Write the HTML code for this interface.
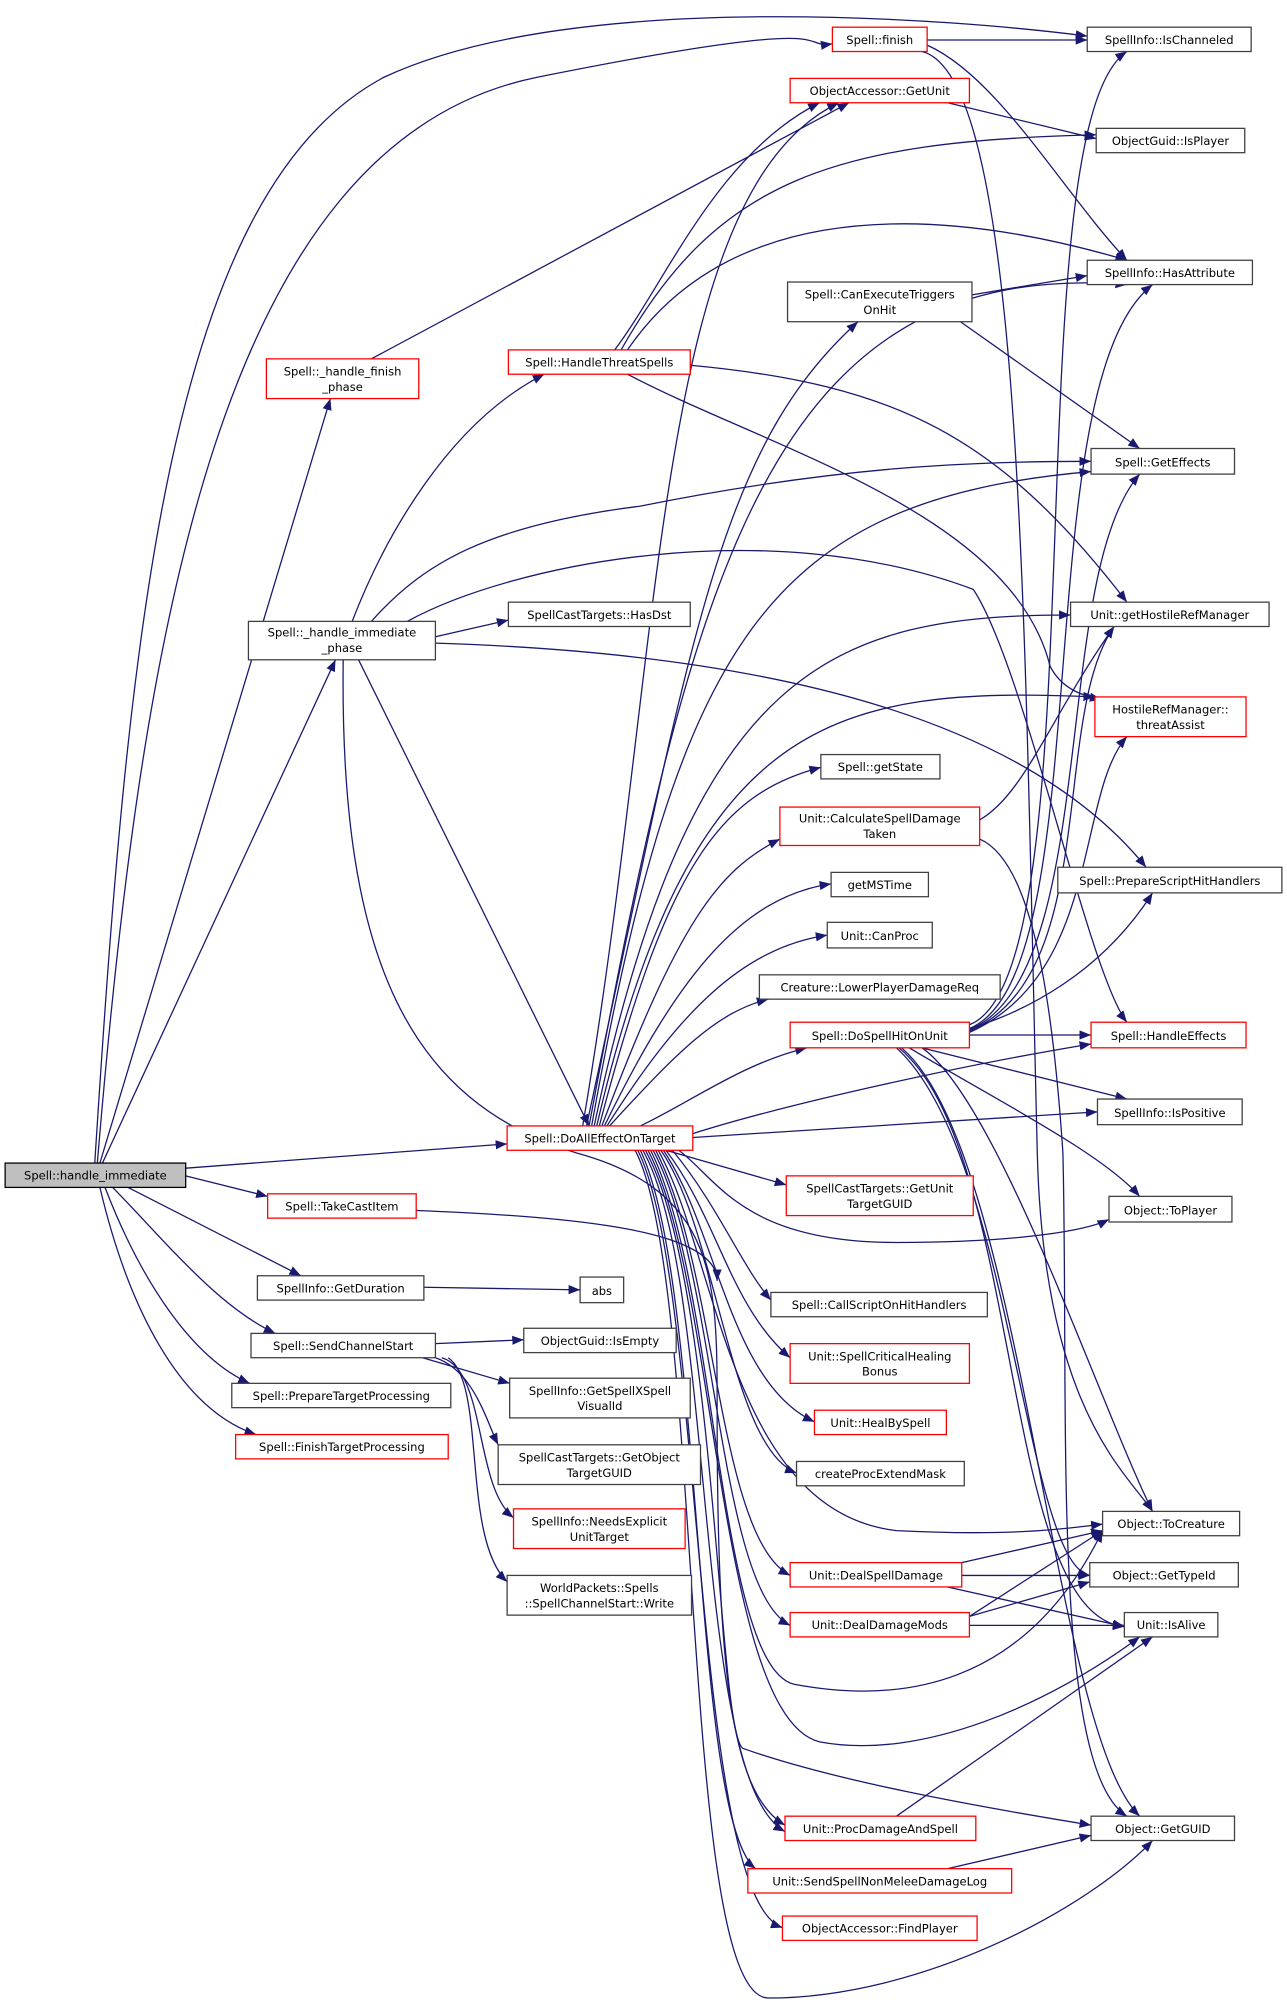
<!DOCTYPE html>
<html><head><meta charset="utf-8"><style>
html,body{margin:0;padding:0;background:#fff;}
svg{display:block;}
text{font-family:"DejaVu Sans","Liberation Sans",sans-serif;font-size:9px;fill:#000;text-anchor:middle;}
.n{fill:#fff;stroke:#404040;stroke-width:1;}
.r{fill:#fff;stroke:#ff0000;stroke-width:1;}
.e{fill:none;stroke:#191970;stroke-width:1;}
</style></head><body>
<svg width="1287" height="2006" viewBox="0 0 1005 1566" xmlns="http://www.w3.org/2000/svg">
<defs><marker id="a" viewBox="0 0 10 10" refX="10" refY="5" markerWidth="9" markerHeight="9" markerUnits="userSpaceOnUse" orient="auto"><path d="M0,1L10,5L0,9z" fill="#191970"/></marker></defs>
<g class="e" marker-end="url(#a)">
<!-- handle_immediate -->
<path d="M76,908 C110,500 170,110 420,60 S620,38 650,34"/>
<path d="M74,908 C100,500 130,150 300,60 C450,-10 750,15 849,28"/>
<path d="M78,908 L258,311"/>
<path d="M80,908 L262,515"/>
<path d="M145,912 L396,893"/>
<path d="M145,918 L209,934"/>
<path d="M100,927 L235,996"/>
<path d="M88,927 C130,970 170,1020 215,1041"/>
<path d="M82,927 C110,1000 150,1060 195,1080"/>
<path d="M78,927 C100,1020 140,1100 200,1120"/>
<!-- finish phase -->
<path d="M290,280 L663,80"/>
<!-- immediate phase -->
<path d="M275,485 C300,420 350,330 425,292"/>
<path d="M290,485 C330,440 380,410 500,395 C650,365 750,360 852,360"/>
<path d="M340,497 L397,484"/>
<path d="M318,485 C400,440 600,400 760,460 C800,520 850,760 880,798"/>
<path d="M340,502 C600,510 800,560 895,677"/>
<path d="M280,515 L460,879"/>
<path d="M268,515 C265,750 320,860 450,900 C560,930 560,1000 560,1100 C560,1300 570,1400 613,1425"/>
<!-- HandleThreatSpells -->
<path d="M480,273 C520,220 560,120 640,80"/>
<path d="M490,273 C560,170 700,150 880,203"/>
<path d="M485,273 C560,140 650,110 856,105"/>
<path d="M539,285 C700,300 780,340 880,470"/>
<path d="M490,292 C600,350 790,400 820,520 C830,540 850,544 860,546"/>
<!-- finish -->
<path d="M724,31 L849,31"/>
<path d="M724,35 C780,60 830,150 880,203"/>
<path d="M720,40 C800,60 800,500 810,900 C815,1100 880,1150 900,1180"/>
<path d="M740,80 L856,108"/>
<path d="M759,230 L849,215"/>
<path d="M750,251 L890,350"/>
<path d="M765,640 C800,620 820,560 870,489"/>
<path d="M765,655 C800,670 820,750 830,900 C835,1100 820,1380 880,1418"/>
<!-- DoAllEffectOnTarget -->
<path d="M455,879 C520,500 510,150 655,80"/>
<path d="M458,879 C540,500 560,350 670,251"/>
<path d="M460,879 C540,450 600,200 880,222"/>
<path d="M462,879 C530,500 600,390 852,368"/>
<path d="M464,879 C540,520 650,480 836,480"/>
<path d="M466,879 C540,560 650,535 855,544"/>
<path d="M468,879 C520,680 560,620 641,599"/>
<path d="M470,879 C530,720 560,680 609,655"/>
<path d="M472,879 C530,760 580,700 649,690"/>
<path d="M474,879 C530,790 580,740 646,730"/>
<path d="M476,879 C530,820 560,790 600,780"/>
<path d="M500,879 C540,860 580,830 630,818"/>
<path d="M541,885 C620,860 760,830 852,815"/>
<path d="M541,888 L857,868"/>
<path d="M520,898 L614,925"/>
<path d="M530,898 C560,920 580,970 700,970 C800,970 850,960 866,952"/>
<path d="M525,898 C560,940 580,990 602,1015"/>
<path d="M520,898 C560,950 570,1020 617,1060"/>
<path d="M518,898 C560,960 570,1080 636,1110"/>
<path d="M516,898 C560,960 570,1130 622,1150"/>
<path d="M514,898 C560,980 570,1180 700,1195 C800,1200 840,1192 861,1190"/>
<path d="M512,898 C560,990 560,1200 617,1230"/>
<path d="M510,898 C560,990 560,1240 617,1269"/>
<path d="M508,898 C560,1000 560,1300 620,1315 C700,1330 800,1320 861,1195"/>
<path d="M506,898 C560,1000 560,1340 640,1360 C720,1375 820,1330 890,1278"/>
<path d="M504,898 C560,1000 560,1350 580,1365 C650,1390 760,1410 852,1425"/>
<path d="M502,898 C560,1000 540,1390 613,1430"/>
<path d="M500,898 C550,1000 540,1420 590,1459"/>
<path d="M498,898 C550,1000 540,1480 611,1505"/>
<path d="M496,898 C550,1000 530,1560 600,1560 C720,1560 850,1490 900,1437"/>
<!-- TakeCastItem -->
<path d="M325,945 C450,950 560,960 560,1000"/>
<!-- DoSpellHitOnUnit -->
<path d="M757,800 C860,760 790,100 880,40"/>
<path d="M757,803 C860,760 800,300 900,222"/>
<path d="M757,804 C860,760 820,450 890,370"/>
<path d="M757,805 C860,760 820,560 870,489"/>
<path d="M757,806 C860,760 840,620 880,575"/>
<path d="M757,803 C800,790 860,760 900,697"/>
<path d="M757,808 L852,808"/>
<path d="M720,818 L880,858"/>
<path d="M710,818 C780,860 860,900 890,934"/>
<path d="M720,818 C780,860 860,1100 900,1180"/>
<path d="M700,818 C790,900 800,1220 851,1230"/>
<path d="M702,818 C800,900 780,1260 878,1270"/>
<path d="M704,818 C800,900 820,1350 890,1418"/>
<!-- SendChannelStart -->
<path d="M340,1049 L409,1046"/>
<path d="M330,1060 L398,1080"/>
<path d="M340,1060 C370,1070 380,1110 389,1128"/>
<path d="M345,1060 C380,1070 370,1160 401,1185"/>
<path d="M350,1060 C380,1080 360,1200 396,1235"/>
<path d="M331,1005 L453,1007"/>
<!-- Deal -->
<path d="M751,1220 L861,1195"/>
<path d="M751,1230 L851,1230"/>
<path d="M740,1239 L878,1270"/>
<path d="M757,1262 L861,1195"/>
<path d="M757,1262 L851,1235"/>
<path d="M757,1269 L878,1269"/>
<path d="M700,1418 L900,1278"/>
<path d="M740,1459 L852,1433"/>
</g>
<rect x="4" y="908" width="141" height="19" fill="#bfbfbf" stroke="#000"/><text x="74.5" y="921">Spell::handle_immediate</text>
<g>
<rect class="r" x="650" y="21" width="74" height="19"/><text x="687" y="34">Spell::finish</text>
<rect class="n" x="849" y="21" width="128" height="19"/><text x="913" y="34">SpellInfo::IsChanneled</text>
<rect class="r" x="617" y="61" width="140" height="19"/><text x="687" y="74">ObjectAccessor::GetUnit</text>
<rect class="n" x="856" y="100" width="116" height="19"/><text x="914" y="113">ObjectGuid::IsPlayer</text>
<rect class="n" x="849" y="203" width="129" height="19"/><text x="913.5" y="216">SpellInfo::HasAttribute</text>
<rect class="n" x="615" y="220" width="144" height="31"/><text x="687" y="233">Spell::CanExecuteTriggers</text><text x="687" y="245">OnHit</text>
<rect class="r" x="208" y="280" width="119" height="31"/><text x="267.5" y="293">Spell::_handle_finish</text><text x="267.5" y="305">_phase</text>
<rect class="r" x="397" y="273" width="142" height="19"/><text x="468" y="286">Spell::HandleThreatSpells</text>
<rect class="n" x="852" y="350" width="112" height="20"/><text x="908" y="364">Spell::GetEffects</text>
<rect class="n" x="194" y="485" width="146" height="30"/><text x="267" y="497">Spell::_handle_immediate</text><text x="267" y="509">_phase</text>
<rect class="n" x="397" y="470" width="142" height="19"/><text x="468" y="483">SpellCastTargets::HasDst</text>
<rect class="n" x="836" y="470" width="155" height="19"/><text x="913.5" y="483">Unit::getHostileRefManager</text>
<rect class="r" x="855" y="544" width="118" height="31"/><text x="914" y="557">HostileRefManager::</text><text x="914" y="569">threatAssist</text>
<rect class="n" x="641" y="589" width="93" height="19"/><text x="687.5" y="602">Spell::getState</text>
<rect class="r" x="609" y="630" width="156" height="30"/><text x="687" y="642">Unit::CalculateSpellDamage</text><text x="687" y="654">Taken</text>
<rect class="n" x="649" y="681" width="76" height="19"/><text x="687" y="694">getMSTime</text>
<rect class="n" x="826" y="677" width="175" height="20"/><text x="913.5" y="691">Spell::PrepareScriptHitHandlers</text>
<rect class="n" x="646" y="720" width="82" height="20"/><text x="687" y="734">Unit::CanProc</text>
<rect class="n" x="593" y="761" width="188" height="19"/><text x="687" y="774">Creature::LowerPlayerDamageReq</text>
<rect class="r" x="617" y="798" width="140" height="20"/><text x="687" y="812">Spell::DoSpellHitOnUnit</text>
<rect class="r" x="852" y="798" width="121" height="20"/><text x="912.5" y="812">Spell::HandleEffects</text>
<rect class="n" x="857" y="858" width="113" height="20"/><text x="913.5" y="872">SpellInfo::IsPositive</text>
<rect class="r" x="396" y="879" width="145" height="19"/><text x="468.5" y="892">Spell::DoAllEffectOnTarget</text>
<rect class="r" x="614" y="918" width="146" height="31"/><text x="687" y="931">SpellCastTargets::GetUnit</text><text x="687" y="943">TargetGUID</text>
<rect class="n" x="866" y="934" width="96" height="20"/><text x="914" y="948">Object::ToPlayer</text>
<rect class="r" x="209" y="932" width="116" height="19"/><text x="267" y="945">Spell::TakeCastItem</text>
<rect class="n" x="201" y="996" width="130" height="19"/><text x="266" y="1009">SpellInfo::GetDuration</text>
<rect class="n" x="453" y="997" width="34" height="20"/><text x="470" y="1011">abs</text>
<rect class="n" x="602" y="1009" width="169" height="19"/><text x="686.5" y="1022">Spell::CallScriptOnHitHandlers</text>
<rect class="n" x="196" y="1041" width="144" height="19"/><text x="268" y="1054">Spell::SendChannelStart</text>
<rect class="n" x="409" y="1037" width="119" height="19"/><text x="468.5" y="1050">ObjectGuid::IsEmpty</text>
<rect class="r" x="617" y="1049" width="140" height="31"/><text x="687" y="1062">Unit::SpellCriticalHealing</text><text x="687" y="1074">Bonus</text>
<rect class="n" x="398" y="1076" width="141" height="31"/><text x="468.5" y="1089">SpellInfo::GetSpellXSpell</text><text x="468.5" y="1101">VisualId</text>
<rect class="n" x="181" y="1080" width="171" height="19"/><text x="266.5" y="1093">Spell::PrepareTargetProcessing</text>
<rect class="r" x="636" y="1101" width="103" height="19"/><text x="687.5" y="1114">Unit::HealBySpell</text>
<rect class="n" x="389" y="1128" width="158" height="31"/><text x="468" y="1141">SpellCastTargets::GetObject</text><text x="468" y="1153">TargetGUID</text>
<rect class="r" x="184" y="1120" width="166" height="19"/><text x="267" y="1133">Spell::FinishTargetProcessing</text>
<rect class="n" x="622" y="1141" width="131" height="19"/><text x="687.5" y="1154">createProcExtendMask</text>
<rect class="r" x="401" y="1178" width="134" height="31"/><text x="468" y="1191">SpellInfo::NeedsExplicit</text><text x="468" y="1203">UnitTarget</text>
<rect class="n" x="861" y="1180" width="107" height="19"/><text x="914.5" y="1193">Object::ToCreature</text>
<rect class="r" x="617" y="1220" width="134" height="19"/><text x="684" y="1233">Unit::DealSpellDamage</text>
<rect class="n" x="851" y="1220" width="116" height="19"/><text x="909" y="1233">Object::GetTypeId</text>
<rect class="n" x="396" y="1230" width="144" height="31"/><text x="468" y="1243">WorldPackets::Spells</text><text x="468" y="1255">::SpellChannelStart::Write</text>
<rect class="r" x="617" y="1259" width="140" height="19"/><text x="687" y="1272">Unit::DealDamageMods</text>
<rect class="n" x="878" y="1259" width="73" height="19"/><text x="914.5" y="1272">Unit::IsAlive</text>
<rect class="r" x="613" y="1418" width="149" height="19"/><text x="687.5" y="1431">Unit::ProcDamageAndSpell</text>
<rect class="n" x="852" y="1418" width="112" height="19"/><text x="908" y="1431">Object::GetGUID</text>
<rect class="r" x="584" y="1459" width="206" height="19"/><text x="687" y="1472">Unit::SendSpellNonMeleeDamageLog</text>
<rect class="r" x="611" y="1496" width="152" height="19"/><text x="687" y="1509">ObjectAccessor::FindPlayer</text>
</g>
</svg>
</body></html>
